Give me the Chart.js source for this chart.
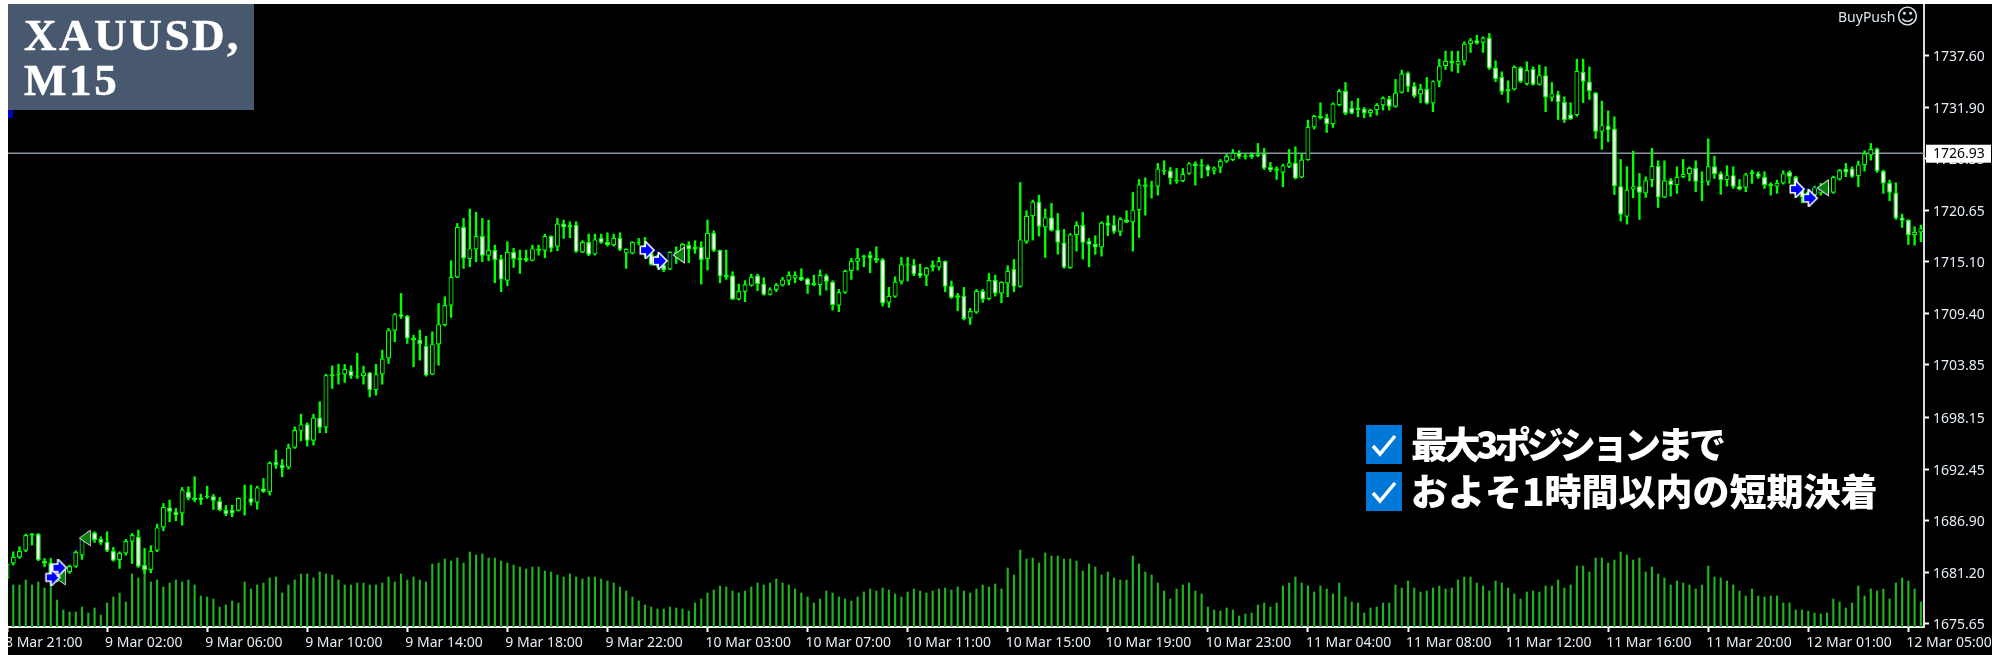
<!DOCTYPE html>
<html>
<head>
<meta charset="utf-8">
<title>XAUUSD M15</title>
<script src="https://cdn.jsdelivr.net/npm/chart.js@4/dist/chart.umd.min.js"></script>
<style>
  html, body { margin: 0; padding: 0; background: #000; overflow: hidden; }
  #wrap { position: relative; width: 1992px; height: 655px; }
  #chart { position: absolute; left: 0; top: 0; }
  .edge { position: absolute; background: #fff; }
  #edgeLeft { left: 0; top: 0; width: 8px; height: 655px; }
  #edgeTop { left: 0; top: 0; width: 1992px; height: 4px; }
  #title { position: absolute; left: 8px; top: 4px; width: 230px; height: 106px; padding-left: 16px;
           background: #47586f; color: #fff; font: bold 45px/45px "Liberation Serif", serif; }
  #title div { letter-spacing: 2.6px; position: relative; top: 9px; -webkit-text-stroke: 0.5px #fff; }
  #blueMark { position: absolute; left: 8px; top: 110px; width: 5px; height: 8px; background: #0000c8; }
  #brand { position: absolute; left: 1838px; top: 7px; color: #dbe4ee; font: 14px "Noto Sans", sans-serif; }
  #smile { position: absolute; left: 1896px; top: 3px; color: #dbe4ee; font: 22px/28px "DejaVu Sans", sans-serif; }
  .note { position: absolute; left: 1366px; height: 39px; color: #fff; white-space: nowrap;
          font: 900 37px/39px "Noto Sans CJK JP", sans-serif; }
  .note svg { position: absolute; left: 0; top: 0; }
  .note span { position: absolute; left: 45px; top: -1px; }
</style>
</head>
<body>
<div id="wrap">
  <canvas id="chart" width="1992" height="655"></canvas>
  <div class="edge" id="edgeLeft"></div>
  <div class="edge" id="edgeTop"></div>
  <div id="title"><div>XAUUSD,</div><div>M15</div></div>
  <div id="blueMark"></div>
  <div id="brand">BuyPush</div>
  <div id="smile">☺</div>
  <div class="note" style="top:425px">
    <svg width="36" height="39"><rect width="36" height="39" fill="#0078d7"/><polyline points="7,21 14,29 29,11" fill="none" stroke="#fff" stroke-width="3.5"/></svg>
    <span style="letter-spacing:-4.5px">最大3ポジションまで</span>
  </div>
  <div class="note" style="top:472px">
    <svg width="36" height="39"><rect width="36" height="39" fill="#0078d7"/><polyline points="7,21 14,29 29,11" fill="none" stroke="#fff" stroke-width="3.5"/></svg>
    <span>およそ1時間以内の短期決着</span>
  </div>
</div>
<script>
var tickLabels = ["8 Mar 21:00","9 Mar 02:00","9 Mar 06:00","9 Mar 10:00","9 Mar 14:00","9 Mar 18:00","9 Mar 22:00",
  "10 Mar 03:00","10 Mar 07:00","10 Mar 11:00","10 Mar 15:00","10 Mar 19:00","10 Mar 23:00",
  "11 Mar 04:00","11 Mar 08:00","11 Mar 12:00","11 Mar 16:00","11 Mar 20:00","12 Mar 01:00","12 Mar 05:00"];
var barsPerTick = 16;
var priceTicks = [1737.60,1731.90,1726.35,1720.65,1715.10,1709.40,1703.85,1698.15,1692.45,1686.90,1681.20,1675.65];
var bid = 1726.93;

var opens = [1680.57,1682.20,1682.85,1683.58,1685.47,1685.40,1682.49,1682.31,1680.82,1680.93,
1681.26,1681.84,1683.07,1685.04,1685.58,1684.89,1684.56,1683.55,1682.56,1683.29,
1684.56,1685.11,1682.02,1681.48,1683.58,1686.13,1688.31,1687.83,1687.65,1690.05,
1689.40,1689.40,1689.58,1689.54,1689.03,1688.02,1688.02,1687.94,1689.29,1689.32,
1688.81,1690.38,1689.98,1693.28,1692.96,1692.67,1694.81,1696.66,1697.39,1695.57,
1698.12,1697.03,1702.62,1702.77,1702.81,1703.21,1702.70,1702.62,1703.03,1701.10,
1702.81,1704.55,1707.57,1709.38,1709.17,1706.80,1706.62,1705.93,1702.81,1706.08,
1708.19,1710.30,1713.39,1718.91,1715.39,1716.44,1717.90,1715.75,1716.37,1715.39,
1713.03,1716.19,1715.53,1715.50,1715.21,1716.30,1716.30,1717.90,1716.73,1719.27,
1719.13,1719.13,1716.11,1717.24,1715.90,1717.71,1717.24,1716.91,1717.71,1716.01,
1716.01,1717.17,1716.91,1716.01,1715.71,1714.73,1714.26,1715.64,1715.82,1716.91,
1716.73,1716.73,1715.39,1718.26,1716.37,1713.64,1713.61,1710.99,1711.83,1712.48,
1713.61,1712.73,1711.50,1712.01,1712.52,1713.03,1713.28,1713.46,1713.28,1712.77,
1712.55,1713.61,1712.92,1710.30,1711.72,1714.08,1715.10,1715.79,1715.82,1715.50,
1715.35,1710.63,1711.28,1712.92,1714.70,1714.77,1713.93,1713.57,1714.73,1714.48,
1715.17,1712.44,1711.43,1711.39,1708.92,1709.57,1711.93,1711.03,1713.10,1711.64,
1712.73,1714.30,1712.37,1717.28,1720.07,1721.67,1718.84,1719.93,1718.62,1717.20,
1714.41,1718.00,1719.09,1717.39,1717.02,1716.66,1719.38,1719.09,1718.37,1719.71,
1719.38,1720.73,1723.53,1723.27,1723.27,1725.09,1725.05,1724.07,1723.89,1724.69,
1725.82,1725.53,1725.53,1725.02,1725.34,1726.03,1726.18,1726.94,1726.69,1726.83,
1726.83,1726.91,1725.45,1725.27,1724.80,1725.45,1725.92,1724.29,1726.18,1729.74,
1731.01,1730.83,1730.10,1732.17,1733.74,1731.88,1731.92,1731.74,1731.30,1731.63,
1732.14,1732.86,1731.99,1733.52,1735.70,1734.28,1733.34,1733.92,1732.35,1734.72,
1736.43,1737.01,1736.57,1736.93,1738.82,1739.26,1738.97,1739.55,1736.28,1735.26,
1733.92,1733.88,1736.28,1734.46,1736.13,1734.39,1735.44,1732.97,1733.37,1732.54,
1731.16,1731.08,1735.81,1734.75,1733.55,1729.27,1729.96,1729.63,1723.34,1720.00,
1722.98,1723.34,1722.54,1723.99,1725.56,1722.11,1723.99,1723.45,1724.32,1724.65,
1725.34,1723.85,1723.82,1725.52,1724.73,1724.00,1724.54,1723.34,1723.16,1724.91,
1724.73,1724.36,1723.56,1723.27,1723.64,1724.87,1724.36,1722.91,1722.73,1722.36,
1722.55,1723.34,1722.62,1724.07,1725.27,1725.27,1724.43,1725.63,1726.69,1727.45,
1725.02,1723.71,1722.65,1719.93,1719.64,1718.00,1718.29];

var highs = [1682.20,1683.47,1684.02,1685.40,1685.47,1685.47,1682.74,1682.74,1682.02,1681.84,
1682.02,1683.58,1685.11,1685.65,1685.65,1685.11,1685.65,1683.95,1683.47,1684.82,
1685.47,1685.84,1683.84,1684.13,1686.49,1688.74,1689.11,1688.20,1690.49,1690.56,
1691.65,1689.76,1690.63,1689.72,1689.40,1688.52,1688.56,1689.36,1690.74,1690.74,
1690.63,1691.47,1693.28,1694.56,1693.54,1695.21,1697.10,1698.48,1697.54,1698.48,
1699.83,1702.84,1703.75,1703.93,1703.90,1703.75,1705.10,1703.71,1703.03,1703.93,
1705.46,1707.82,1709.46,1711.64,1709.27,1707.09,1707.64,1706.98,1707.46,1710.55,
1711.28,1715.21,1719.27,1719.82,1720.84,1720.48,1719.82,1719.64,1716.91,1715.82,
1717.28,1716.55,1716.37,1716.37,1716.91,1716.91,1718.11,1717.93,1719.82,1719.64,
1719.46,1719.46,1717.39,1718.11,1718.11,1718.11,1718.26,1718.11,1718.26,1716.51,
1717.28,1717.64,1717.75,1716.37,1715.82,1714.84,1716.19,1716.73,1717.10,1717.28,
1717.39,1717.28,1719.64,1718.48,1716.37,1716.37,1714.01,1712.66,1713.03,1713.75,
1713.75,1713.35,1712.26,1712.73,1713.39,1714.01,1714.01,1714.33,1713.31,1713.64,
1714.19,1713.75,1713.03,1712.08,1714.19,1715.46,1716.55,1715.82,1716.19,1716.73,
1715.46,1712.30,1713.46,1715.57,1715.57,1715.35,1714.84,1714.48,1715.20,1715.57,
1715.20,1712.99,1711.64,1712.30,1710.01,1712.08,1712.08,1713.82,1713.64,1712.92,
1714.66,1715.35,1723.74,1720.66,1721.82,1722.36,1720.84,1721.46,1720.37,1718.62,
1718.18,1719.46,1720.47,1717.64,1717.93,1719.46,1720.11,1720.11,1719.93,1720.66,
1722.65,1724.07,1724.25,1723.89,1725.82,1726.11,1725.38,1725.27,1725.27,1725.92,
1726.00,1726.25,1725.67,1725.45,1726.25,1726.80,1727.34,1727.20,1726.91,1726.98,
1728.00,1727.45,1725.92,1725.45,1725.74,1727.34,1727.63,1726.91,1730.54,1731.08,
1732.43,1731.19,1732.43,1733.88,1734.64,1732.61,1732.90,1731.92,1731.74,1732.35,
1733.08,1733.15,1734.97,1735.99,1735.81,1734.64,1734.46,1735.19,1734.83,1737.19,
1738.06,1738.06,1738.06,1739.08,1739.44,1739.80,1739.62,1739.99,1737.01,1735.81,
1734.83,1736.46,1736.35,1736.90,1736.35,1736.53,1736.35,1734.64,1733.70,1733.08,
1732.43,1737.19,1737.19,1736.35,1733.55,1732.61,1731.56,1730.90,1726.25,1725.45,
1727.16,1724.72,1724.36,1727.45,1726.10,1726.10,1724.18,1725.45,1726.25,1725.45,
1726.10,1724.91,1728.50,1726.61,1724.91,1725.56,1725.45,1724.07,1724.73,1725.09,
1724.91,1724.91,1723.71,1724.00,1725.02,1725.02,1724.43,1722.91,1722.91,1723.34,
1723.64,1723.82,1724.43,1725.16,1725.82,1725.45,1726.07,1727.20,1727.99,1727.50,
1725.09,1724.00,1723.71,1720.29,1719.71,1718.91,1719.09];

var lows = [1680.30,1682.02,1682.74,1683.47,1684.20,1682.49,1681.84,1680.57,1680.20,1680.57,
1681.11,1681.77,1682.64,1684.38,1684.49,1684.27,1683.47,1682.45,1681.66,1683.11,
1682.20,1681.77,1681.11,1681.18,1683.47,1685.76,1686.74,1686.85,1686.38,1689.11,
1688.92,1688.63,1689.29,1688.09,1687.94,1687.40,1687.29,1687.90,1687.47,1688.56,
1688.12,1689.94,1689.65,1692.56,1691.65,1692.48,1694.74,1695.57,1694.99,1695.10,
1696.45,1696.45,1701.28,1701.75,1701.93,1702.37,1702.37,1701.75,1700.37,1700.55,
1701.75,1704.00,1706.37,1708.91,1706.19,1703.64,1704.37,1702.62,1702.77,1703.82,
1708.08,1709.03,1713.35,1714.37,1714.55,1715.10,1715.10,1715.21,1712.81,1711.83,
1712.48,1714.48,1713.82,1715.10,1715.18,1715.82,1715.53,1716.19,1716.30,1717.64,
1717.71,1716.11,1716.08,1715.75,1715.82,1717.10,1716.80,1716.80,1716.30,1714.37,
1715.93,1716.91,1715.64,1714.73,1714.48,1714.01,1714.22,1714.91,1715.10,1714.99,
1716.01,1712.66,1714.19,1716.19,1712.81,1713.17,1710.95,1710.92,1710.74,1712.44,
1711.94,1711.46,1711.46,1711.83,1712.44,1712.55,1712.81,1713.03,1711.64,1712.48,
1711.46,1712.01,1709.83,1709.65,1711.64,1713.17,1714.19,1714.55,1713.90,1714.99,
1710.26,1710.12,1711.21,1712.66,1712.99,1713.57,1713.35,1712.48,1714.08,1714.19,
1711.82,1711.10,1709.75,1708.74,1708.26,1709.46,1710.66,1710.92,1711.35,1710.63,
1711.28,1711.82,1712.33,1717.09,1717.46,1717.89,1715.57,1718.44,1715.93,1714.37,
1714.37,1716.26,1715.39,1714.55,1715.90,1715.71,1717.93,1718.18,1717.93,1719.35,
1716.26,1717.75,1720.18,1722.04,1722.36,1724.62,1723.56,1723.64,1723.82,1724.62,
1723.45,1724.25,1724.44,1724.65,1724.80,1725.92,1726.11,1726.36,1726.29,1726.36,
1726.54,1725.16,1724.91,1724.07,1723.27,1725.34,1724.11,1724.25,1726.15,1729.56,
1730.65,1729.19,1729.74,1732.10,1731.12,1731.22,1730.90,1730.79,1730.90,1731.08,
1731.63,1731.63,1731.92,1733.48,1733.63,1733.01,1732.43,1732.28,1731.45,1734.17,
1736.06,1735.88,1735.70,1736.53,1737.92,1738.82,1737.92,1736.06,1734.72,1733.34,
1732.46,1733.81,1734.64,1734.35,1734.35,1734.35,1731.45,1732.61,1730.61,1730.28,
1730.61,1730.97,1732.46,1732.79,1728.54,1727.34,1728.18,1722.43,1719.53,1719.20,
1722.07,1719.71,1722.11,1723.27,1721.02,1722.07,1722.25,1722.54,1724.25,1723.92,
1722.73,1721.75,1723.45,1724.18,1722.44,1723.34,1723.09,1722.91,1722.73,1723.64,
1724.18,1723.09,1722.36,1722.55,1723.56,1723.64,1722.55,1721.53,1721.75,1722.11,
1722.36,1722.55,1722.55,1724.00,1724.36,1724.29,1723.27,1724.98,1726.18,1724.83,
1722.55,1721.75,1719.71,1718.84,1716.98,1716.91,1717.28];

var closes = [1682.20,1682.93,1683.58,1685.29,1685.25,1682.56,1682.20,1680.75,1681.48,1681.55,
1681.91,1683.44,1684.93,1685.47,1684.75,1684.45,1683.58,1682.49,1683.36,1684.64,
1685.29,1681.84,1681.48,1683.58,1686.13,1688.38,1687.83,1687.47,1690.27,1689.32,
1689.11,1689.11,1689.43,1689.03,1688.02,1687.58,1687.65,1689.36,1689.40,1688.81,
1690.49,1690.01,1693.18,1692.92,1692.56,1694.85,1696.74,1697.39,1695.57,1698.12,
1696.99,1702.73,1702.84,1702.91,1703.39,1702.62,1702.55,1703.03,1701.10,1702.84,
1704.55,1707.64,1709.38,1709.09,1706.73,1706.55,1706.11,1702.73,1706.11,1708.29,
1710.37,1713.46,1718.91,1715.46,1716.55,1717.90,1715.75,1716.37,1715.28,1713.17,
1716.19,1715.39,1715.28,1715.21,1716.55,1716.51,1717.93,1716.55,1719.27,1718.84,
1718.84,1716.19,1717.24,1715.86,1717.53,1717.17,1716.91,1717.71,1716.40,1716.51,
1717.24,1717.28,1716.01,1714.77,1714.84,1714.19,1716.19,1716.19,1717.02,1716.44,
1716.44,1715.28,1718.26,1716.30,1713.53,1713.39,1710.99,1711.90,1712.63,1713.46,
1712.66,1711.50,1712.08,1712.59,1713.17,1713.64,1713.64,1713.10,1712.55,1712.52,
1713.64,1712.92,1710.37,1711.79,1714.12,1715.17,1715.50,1715.57,1715.46,1715.21,
1710.55,1711.39,1712.95,1714.81,1714.81,1713.71,1713.53,1714.44,1714.48,1715.17,
1712.37,1711.17,1711.17,1708.85,1709.72,1711.93,1710.99,1713.10,1711.64,1712.92,
1714.12,1712.37,1717.53,1720.11,1721.67,1718.91,1719.93,1718.48,1717.17,1714.48,
1718.08,1719.09,1717.17,1716.95,1716.66,1719.38,1719.02,1718.37,1719.78,1719.38,
1720.80,1723.53,1723.27,1723.38,1725.27,1724.94,1724.18,1723.89,1724.69,1725.82,
1725.53,1725.67,1725.02,1725.38,1726.11,1726.62,1726.98,1726.54,1726.54,1726.51,
1726.62,1725.27,1725.09,1725.02,1725.60,1725.92,1724.18,1726.25,1729.81,1731.01,
1730.76,1730.10,1732.35,1733.74,1731.26,1731.26,1731.63,1731.26,1731.66,1732.21,
1732.97,1731.99,1733.55,1735.63,1734.17,1733.15,1733.92,1732.35,1734.79,1736.50,
1737.01,1736.72,1737.01,1738.90,1739.26,1738.90,1739.55,1736.17,1735.01,1733.63,
1733.66,1736.35,1734.72,1735.99,1734.39,1735.44,1733.01,1733.45,1732.50,1730.54,
1730.65,1735.92,1734.72,1733.70,1729.27,1729.99,1729.45,1723.34,1720.22,1722.98,
1723.34,1722.62,1723.99,1725.56,1722.11,1723.99,1723.45,1724.36,1724.69,1725.34,
1723.81,1723.71,1725.52,1724.65,1724.00,1724.54,1723.27,1722.98,1724.62,1724.65,
1724.36,1723.45,1723.34,1723.71,1724.73,1724.36,1723.27,1722.11,1722.00,1723.20,
1723.34,1722.62,1724.36,1725.09,1724.83,1724.36,1725.71,1726.91,1727.38,1724.98,
1723.64,1722.62,1719.82,1719.56,1718.00,1718.37,1718.73];

var volumes = [40,42,42,47,42,45,39,45,27,17,15,15,20,14,19,12,24,30,34,25,
53,49,58,45,47,40,44,47,45,47,42,31,30,28,20,22,26,24,45,38,
42,44,49,50,34,42,47,53,53,49,55,53,52,47,42,42,44,44,42,42,
44,50,45,53,47,50,47,45,63,64,68,66,69,64,75,72,73,69,69,66,
64,62,60,58,60,60,56,55,52,50,53,50,48,50,50,48,46,44,40,36,
30,26,22,20,18,18,20,19,18,16,24,28,34,37,41,40,36,34,36,40,
44,42,44,48,44,42,38,34,30,24,28,36,34,30,28,26,30,35,38,36,
39,37,33,30,35,38,36,34,36,38,39,37,40,36,34,38,42,40,43,38,
59,52,77,68,69,64,74,71,71,68,68,66,56,63,60,52,55,49,47,47,
71,63,55,52,44,36,28,38,42,44,36,33,20,17,16,19,17,11,13,14,
22,24,20,24,41,44,50,44,41,35,41,38,33,44,30,25,24,14,19,20,
24,24,42,39,46,39,35,36,39,41,38,39,47,50,50,44,41,36,46,44,
39,33,28,35,36,35,41,41,47,39,42,61,61,55,69,69,64,67,75,72,
67,69,55,60,53,49,42,46,44,42,38,42,61,50,49,46,42,36,31,38,
31,30,31,31,24,24,17,17,16,14,13,14,28,25,19,24,41,31,38,36,
38,28,44,49,46,38,25];

// trades on the chart: buy arrows and their closing marks
var entryBars = [7.31,8.39,102.33,104.4,286.2,288.3];
var entryPrices = [1680.68,1681.73,1716.36,1715.20,1723.02,1722.03];
var exitBars = [8.47,12.47,107.44,107.44,290.35,290.35];
var exitPrices = [1680.71,1684.97,1715.82,1715.82,1723.16,1723.16];

var categories = opens.map(function(o, i){
  return i % barsPerTick === 0 ? tickLabels[i / barsPerTick] : '';
});

function makeArrow(){
  var c = document.createElement('canvas');
  c.width = 18; c.height = 18;
  var g = c.getContext('2d');
  var pts = [[3,6],[8,6],[8,2],[15,9],[8,16],[8,12],[3,12]];
  g.beginPath();
  pts.forEach(function(p, i){ i ? g.lineTo(p[0], p[1]) : g.moveTo(p[0], p[1]); });
  g.closePath();
  g.lineWidth = 3; g.strokeStyle = '#fff'; g.stroke();
  g.fillStyle = '#0000ff'; g.fill();
  return c;
}
function makeExit(){
  var c = document.createElement('canvas');
  c.width = 14; c.height = 18;
  var g = c.getContext('2d');
  g.beginPath();
  g.moveTo(2,9); g.lineTo(12,2); g.lineTo(12,16); g.closePath();
  g.lineWidth = 1.5; g.strokeStyle = '#e6e6e6'; g.stroke();
  g.fillStyle = '#0a7d0a'; g.fill();
  return c;
}

var datasets = [];
datasets.push({ label: 'Volume', data: volumes, yAxisID: 'yVol', grouped: false, order: 5,
  barThickness: 1.5, backgroundColor: '#1fb31f' });
datasets.push({ label: 'Wick', data: highs.map(function(h, i){ return [lows[i], h]; }), yAxisID: 'y', grouped: false, order: 4,
  barThickness: 1.7, backgroundColor: '#00ff00' });
datasets.push({ label: 'Body', data: opens.map(function(o, i){ return [o, closes[i]]; }), yAxisID: 'y', grouped: false, order: 3,
  barThickness: 5, borderWidth: 1.2, borderSkipped: false, borderColor: '#00ff00', inflateAmount: 0,
  backgroundColor: opens.map(function(o, i){ return closes[i] < o ? '#ffffff' : '#000000'; }) });
entryBars.forEach(function(b, i){
  datasets.push({ type: 'line', label: 'Trade' + i, xAxisID: 'xMark', yAxisID: 'y', order: 2,
    data: [{x: b, y: entryPrices[i]}, {x: exitBars[i], y: exitPrices[i]}],
    borderColor: '#0000ff', borderWidth: 1, borderDash: [4,4], pointRadius: 0, fill: false });
});
datasets.push({ type: 'scatter', label: 'Exit', xAxisID: 'xMark', yAxisID: 'y', order: 1,
  data: exitBars.map(function(b, i){ return {x: b, y: exitPrices[i]}; }), pointStyle: makeExit() });
datasets.push({ type: 'scatter', label: 'Entry', xAxisID: 'xMark', yAxisID: 'y', order: 0,
  data: entryBars.map(function(b, i){ return {x: b, y: entryPrices[i]}; }), pointStyle: makeArrow() });

var screen = {
  id: 'screen',
  beforeDraw: function(chart){
    var g = chart.ctx;
    g.fillStyle = '#000';
    g.fillRect(0, 0, chart.width, chart.height);
  },
  beforeDatasetsDraw: function(chart){
    var g = chart.ctx, a = chart.chartArea;
    var py = chart.scales.y.getPixelForValue(bid);
    g.save();
    g.strokeStyle = '#8b93a5';
    g.lineWidth = 1.5;
    g.beginPath(); g.moveTo(a.left, py); g.lineTo(a.right, py); g.stroke();
    g.restore();
  },
  afterDraw: function(chart){
    var g = chart.ctx, a = chart.chartArea;
    var py = chart.scales.y.getPixelForValue(bid);
    g.save();
    g.fillStyle = '#fff';
    g.fillRect(a.right + 2, py - 8.5, 65, 18);
    g.fillStyle = '#000';
    g.font = '14px "Noto Sans"';
    g.textBaseline = 'middle';
    g.fillText(bid.toFixed(2), a.right + 9, py + 1);
    g.restore();
  }
};

// the axes keep a fixed size, tick labels must not push the plot area in
function fixAxis(s, w, h){
  if (w) s.width = w;
  if (h) s.height = h;
  s.paddingTop = s.paddingBottom = s.paddingLeft = s.paddingRight = 0;
}

new Chart(document.getElementById('chart'), {
  type: 'bar',
  data: { labels: categories, datasets: datasets },
  plugins: [screen],
  options: {
    responsive: false,
    animation: false,
    events: [],
    layout: { autoPadding: false, padding: { left: 3.875, top: 4, right: 0, bottom: 0 } },
    plugins: { legend: { display: false }, tooltip: { enabled: false } },
    scales: {
      x: {
        type: 'category', offset: true,
        grid: { offset: false, drawOnChartArea: false, color: '#fff', tickLength: 5, tickWidth: 2 },
        border: { color: '#fff', width: 2 },
        afterBuildTicks: function(s){
          s.ticks = tickLabels.map(function(t, i){ return { value: i * barsPerTick }; });
        },
        afterFit: function(s){ fixAxis(s, 0, 28); },
        ticks: { autoSkip: false, maxRotation: 0, minRotation: 0, align: 'start', labelOffset: -2, padding: 3,
          color: '#e6edf5', font: { family: 'Noto Sans', size: 14 } }
      },
      xMark: { type: 'linear', display: false, offset: false, min: -0.5, max: 306.5 },
      y: {
        position: 'right', min: 1675.27, max: 1743.2,
        grid: { drawOnChartArea: false, color: '#fff', tickLength: 5, tickWidth: 2 },
        border: { color: '#dddddd', width: 2 },
        afterBuildTicks: function(s){
          s.ticks = priceTicks.map(function(v){ return { value: v }; });
        },
        afterFit: function(s){ fixAxis(s, 68, 0); },
        ticks: { padding: 4, align: 'center', crossAlign: 'near', labelOffset: 1.5, color: '#e6edf5', font: { family: 'Noto Sans', size: 14 },
          callback: function(v){ return v.toFixed(2); } }
      },
      yVol: { display: false, min: 0, max: 623 }
    }
  }
});
</script>
</body>
</html>
